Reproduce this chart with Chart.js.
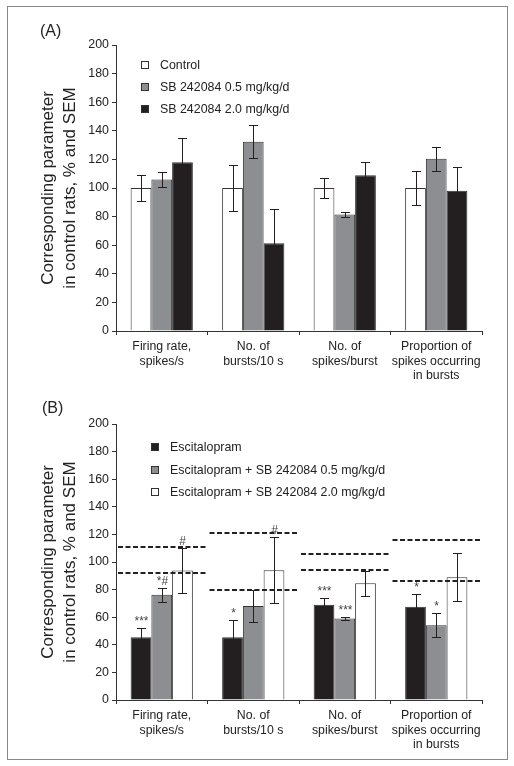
<!DOCTYPE html>
<html>
<head>
<meta charset="utf-8">
<script src="https://cdn.jsdelivr.net/npm/chart.js@4.4.0/dist/chart.umd.min.js"></script>
<style>
  body { margin: 0; background: #fff; font-family: "Liberation Sans", Arial, sans-serif; color: #222; }
  #frame { position: absolute; left: 7px; top: 6px; width: 499px; height: 752px; border: 1px solid #888; }
  .cv { position: absolute; left: 0; }
  .panel { position: absolute; font-size: 16px; line-height: 18px; }
  .legend { position: absolute; font-size: 12.4px; }
  .legend .row { display: flex; align-items: center; white-space: nowrap; }
  .legend .sw { width: 8px; height: 8px; box-sizing: border-box; border: 1px solid #333; }
</style>
</head>
<body>
<div id="frame"></div>
<canvas id="chartA" class="cv" width="514" height="391" style="top:0"></canvas>
<canvas id="chartB" class="cv" width="514" height="380" style="top:380px"></canvas>
<div class="panel" style="left:40px;top:22px">(A)</div>
<div class="panel" style="left:42px;top:399px">(B)</div>
<div id="legendA" class="legend" style="left:141px;top:54px"></div>
<div id="legendB" class="legend" style="left:151px;top:436px"></div>
<script>
// categories
const categories = [
  ['Firing rate,', 'spikes/s'],
  ['No. of', 'bursts/10 s'],
  ['No. of', 'spikes/burst'],
  ['Proportion of', 'spikes occurring', 'in bursts']
];

// panel A
const seriesA = ['Control', 'SB 242084 0.5 mg/kg/d', 'SB 242084 2.0 mg/kg/d'];
const controlA = [100, 100, 100, 100];
const controlSemA = [9, 16, 7, 12];
const sb05A = [106, 132.4, 81.5, 120.5];
const sb05SemA = [5.5, 11.5, 1.5, 8.5];
const sb20A = [118, 61.3, 109, 98];
const sb20SemA = [17, 24, 9, 17];

// panel B
const seriesB = ['Escitalopram', 'Escitalopram + SB 242084 0.5 mg/kg/d', 'Escitalopram + SB 242084 2.0 mg/kg/d'];
const escB = [45.5, 45.5, 69, 67.5];
const escSemB = [6.5, 12.5, 5, 9.4];
const esc05B = [76.2, 68.2, 59, 54.2];
const esc05SemB = [5, 11.5, 1.2, 8.5];
const esc20B = [93.8, 94, 84.6, 89];
const esc20SemB = [16.5, 23.8, 9, 17.3];
const escMarks = ['***', '*', '***', '*'];
const esc05Marks = ['*#', '', '***', '*'];
const esc20Marks = ['#', '#', '', ''];
const ctrlLowB = [91.9, 79.8, 94.3, 86.3];
const ctrlHighB = [110.8, 121, 105.6, 116];

const yTicks = { min: 0, max: 200, step: 20 };
const WHITE = '#ffffff', GRAY = '#8d8e92', BLACK = '#231f20';
const FONT = '"Liberation Sans", Arial, sans-serif';

const errorBars = {
  id: 'errorBars',
  afterDatasetsDraw(chart) {
    const ctx = chart.ctx;
    const y = chart.scales.y;
    chart.data.datasets.forEach((ds, i) => {
      const meta = chart.getDatasetMeta(i);
      meta.data.forEach((bar, j) => {
        const v = ds.data[j], e = ds.sem[j];
        const top = Math.round(y.getPixelForValue(v + e)) + 0.5;
        const bot = Math.round(y.getPixelForValue(v - e)) + 0.5;
        const x = Math.round(bar.x) + 0.5;
        ctx.save();
        ctx.strokeStyle = BLACK;
        ctx.lineWidth = 1;
        ctx.beginPath();
        ctx.moveTo(x, top); ctx.lineTo(x, bot);
        ctx.moveTo(x - 4.5, top); ctx.lineTo(x + 4.5, top);
        ctx.moveTo(x - 4.5, bot); ctx.lineTo(x + 4.5, bot);
        ctx.stroke();
        if (ds.marks && ds.marks[j]) {
          ctx.fillStyle = '#444';
          ctx.font = '12px ' + FONT;
          ctx.textAlign = 'center';
          ctx.textBaseline = 'alphabetic';
          ctx.fillText(ds.marks[j], x, top - 4);
        }
        ctx.restore();
      });
    });
  }
};

const controlRange = {
  id: 'controlRange',
  afterDatasetsDraw(chart, args, opts) {
    if (!opts.low) return;
    const ctx = chart.ctx;
    const x = chart.scales.x, y = chart.scales.y;
    const w = x.width / categories.length;
    ctx.save();
    ctx.strokeStyle = '#222';
    ctx.lineWidth = 2;
    ctx.setLineDash([5, 2.5]);
    for (let i = 0; i < categories.length; i++) {
      const cx = x.getPixelForValue(i);
      [opts.low[i], opts.high[i]].forEach(v => {
        const py = Math.round(y.getPixelForValue(v));
        ctx.beginPath();
        ctx.moveTo(cx - w / 2 + 2, py);
        ctx.lineTo(cx + w / 2, py);
        ctx.stroke();
      });
    }
    ctx.restore();
  }
};

function barSet(label, data, sem, color, marks) {
  return {
    label: label,
    data: data,
    sem: sem,
    marks: marks,
    backgroundColor: color,
    borderColor: '#333',
    borderWidth: 1,
    categoryPercentage: 0.68,
    barPercentage: 1
  };
};

function makeChart(id, datasets, padTop, range) {
  return new Chart(document.getElementById(id), {
    type: 'bar',
    data: { labels: categories, datasets: datasets },
    plugins: [errorBars, controlRange],
    options: {
      responsive: false,
      animation: false,
      layout: { padding: { top: padTop, right: 32, bottom: 0, left: 0 } },
      plugins: {
        legend: { display: false },
        tooltip: { enabled: false },
        controlRange: range || {}
      },
      scales: {
        x: {
          ticks: { font: { family: FONT, size: 12.3, lineHeight: 1.15 }, color: '#222', padding: 5, maxRotation: 0, autoSkip: false },
          grid: { drawOnChartArea: false, drawTicks: true, tickLength: 4, color: '#333', offset: true },
          border: { color: '#333', width: 1 },
          afterFit: s => { s.height = 60; }
        },
        y: {
          min: yTicks.min,
          max: yTicks.max,
          ticks: { stepSize: yTicks.step, font: { family: FONT, size: 12.4 }, color: '#222', padding: 3 },
          grid: { drawOnChartArea: false, drawTicks: true, tickLength: 4, color: '#333' },
          border: { color: '#333', width: 1 },
          title: {
            display: true,
            text: ['Corresponding parameter', 'in control rats, % and SEM'],
            font: { family: FONT, size: 17, lineHeight: 1.3 },
            color: '#222',
            padding: { top: 37, bottom: 0 }
          },
          afterFit: s => { s.width = 116; }
        }
      }
    }
  });
};

function makeLegend(id, names, colors, rowH) {
  const box = document.getElementById(id);
  names.forEach((n, i) => {
    const row = document.createElement('div');
    row.className = 'row';
    row.style.height = rowH + 'px';
    const sw = document.createElement('span');
    sw.className = 'sw';
    sw.style.background = colors[i];
    sw.style.marginRight = '11px';
    const t = document.createElement('span');
    t.textContent = n;
    row.appendChild(sw);
    row.appendChild(t);
    box.appendChild(row);
  });
};

makeChart('chartA', [
  barSet(seriesA[0], controlA, controlSemA, WHITE),
  barSet(seriesA[1], sb05A, sb05SemA, GRAY),
  barSet(seriesA[2], sb20A, sb20SemA, BLACK)
], 45);

makeChart('chartB', [
  barSet(seriesB[0], escB, escSemB, BLACK, escMarks),
  barSet(seriesB[1], esc05B, esc05SemB, GRAY, esc05Marks),
  barSet(seriesB[2], esc20B, esc20SemB, WHITE, esc20Marks)
], 44, { low: ctrlLowB, high: ctrlHighB });

makeLegend('legendA', seriesA, [WHITE, GRAY, BLACK], 22);
makeLegend('legendB', seriesB, [BLACK, GRAY, WHITE], 22.5);
</script>
</body>
</html>
